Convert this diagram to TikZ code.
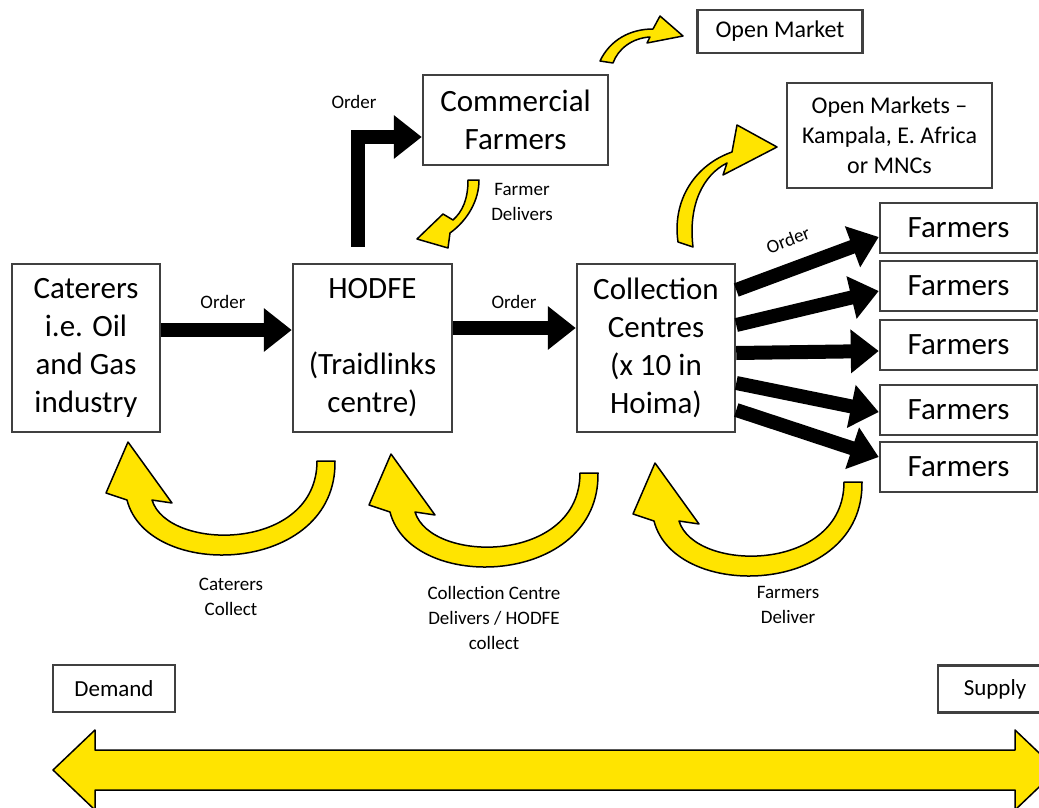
\documentclass[tikz,border=0pt]{standalone}
\usepackage{fontspec}
\setmainfont{Carlito}
\usetikzlibrary{arrows.meta}
\definecolor{flowyellow}{RGB}{255,228,0}
\definecolor{boxgrey}{RGB}{64,64,64}

\begin{document}
\begin{tikzpicture}[x=1pt,y=-1pt,
        block/.style={draw=boxgrey,line width=2.5pt,align=center,inner sep=0pt},
        bigtext/.style={font=\fontsize{31}{38}\selectfont},
        midtext/.style={font=\fontsize{24}{30}\selectfont},
        smalltext/.style={font=\fontsize{19}{25}\selectfont,align=center},
        flowarrow/.style={fill=flowyellow,draw=black,line width=1.5pt,line join=round}]
    \useasboundingbox (0,0) rectangle (1039,808);

    \begin{scope}[every node/.style={block,bigtext}]
        \node[minimum width=148pt,minimum height=168pt] (cat) at (86,348) {Caterers\\i.e. Oil\\and Gas\\industry};
        \node[minimum width=159pt,minimum height=168pt] (hodfe) at (372.5,348) {HODFE\\[38pt](Traidlinks\\centre)};
        \node[minimum width=158pt,minimum height=168pt] (cc) at (656,348) {Collection\\Centres\\(x 10 in\\Hoima)};
        \node[minimum width=185pt,minimum height=90pt] (cf) at (515.5,120) {Commercial\\Farmers};
        \node[minimum width=157pt,minimum height=50pt] (f1) at (958.5,228) {Farmers};
        \node[minimum width=157pt,minimum height=50pt] (f2) at (958.5,286) {Farmers};
        \node[minimum width=157pt,minimum height=50pt] (f3) at (958.5,345) {Farmers};
        \node[minimum width=157pt,minimum height=50pt] (f4) at (958.5,410) {Farmers};
        \node[minimum width=157pt,minimum height=50pt] (f5) at (958.5,467) {Farmers};
    \end{scope}

    \begin{scope}[every node/.style={block,midtext}]
        \node[minimum width=165pt,minimum height=43pt] (om) at (780,31.5) {Open Market};
        \node[minimum width=205pt,minimum height=105pt] (omk) at (889.5,135.5) {Open Markets –\\Kampala, E. Africa\\or MNCs};
        \node[minimum width=122pt,minimum height=47pt,font=\fontsize{23}{28}\selectfont] (dem) at (114,688.5) {Demand};
    \end{scope}

    \begin{scope}[every node/.style={smalltext}]
        \node (ordcat) at (223,302) {Order};
        \node (ordcc) at (514,302) {Order};
        \node (ordcf) at (354,102) {Order};
        \node[rotate=21] (ordf) at (788,240) {Order};
        \node (fdel) at (522,202) {Farmer\\Delivers};
        \node (catcol) at (231,597) {Caterers\\Collect};
        \node (ccdel) at (494,618) {Collection Centre\\Delivers / HODFE\\collect};
        \node (farmdel) at (788,605) {Farmers\\Deliver};
    \end{scope}

    \begin{scope}[>={Triangle[length=28pt,width=42pt]},
                every edge/.style={draw=black,line width=14pt}]
        \path [->] ([yshift=18pt]cat.east) edge ([yshift=18pt]hodfe.west);
        \path [->] ([yshift=20pt]hodfe.east) edge ([yshift=20pt]cc.west);
        \path [->] ([yshift=58pt]cc.east) edge ([yshift=-9pt]f1.west);
        \path [->] ([yshift=23pt]cc.east) edge ([yshift=-5pt]f2.west);
        \path [->] ([yshift=-5pt]cc.east) edge ([yshift=-6pt]f3.west);
        \path [->] ([yshift=-35pt]cc.east) edge ([yshift=-2pt]f4.west);
        \path [->] ([yshift=-62pt]cc.east) edge ([yshift=10pt]f5.west);
        \draw [->,line width=14pt] ([xshift=-14.5pt,yshift=16pt]hodfe.north) |- ([yshift=-17pt]cf.west);
    \end{scope}

    \path[flowarrow] (600,61) .. controls (610,40) and (630,29) .. (653,29) -- (660,16) -- (683,36) -- (647,43) -- (650,37) .. controls (632,38) and (618,49) .. (613,63) -- cycle;
    \path[flowarrow] (468,180) .. controls (468,200) and (462,212) .. (453,220) -- (443,214) -- (417,239) -- (448,248) -- (450,233) .. controls (468,220) and (479,200) .. (479,180) -- cycle;
    \path[flowarrow] (678,242) .. controls (672,200) and (695,165) .. (732,152) -- (737,125) -- (777,147) -- (723,175) -- (727,163) .. controls (703,175) and (688,205) .. (693,247) -- cycle;

    \path[flowarrow] (335,461) .. controls (337,575) and (148,582) .. (127,500) -- (106,493) -- (128,442) -- (172,503) -- (152,500) .. controls (168,552) and (317,552) .. (317,461) -- cycle;
    \begin{scope}[shift={(263,12)}]
        \path[flowarrow] (335,461) .. controls (337,575) and (148,582) .. (127,500) -- (106,493) -- (128,442) -- (172,503) -- (152,500) .. controls (168,552) and (317,552) .. (317,461) -- cycle;
    \end{scope}
    \begin{scope}[shift={(527,21)}]
        \path[flowarrow] (335,461) .. controls (337,575) and (148,582) .. (127,500) -- (106,493) -- (128,442) -- (172,503) -- (152,500) .. controls (168,552) and (317,552) .. (317,461) -- cycle;
    \end{scope}

    \begin{scope}
        \clip (0,0) rectangle (1039,808);
        \path[flowarrow] (53,770) -- (95,730) -- (95,750) -- (1015,750) -- (1015,730) -- (1057,770) -- (1015,810) -- (1015,790) -- (95,790) -- (95,810) -- cycle;
        \node[block,font=\fontsize{23}{28}\selectfont,minimum width=114pt,minimum height=47pt] (sup) at (995,689) {Supply};
    \end{scope}
\end{tikzpicture}
\end{document}
